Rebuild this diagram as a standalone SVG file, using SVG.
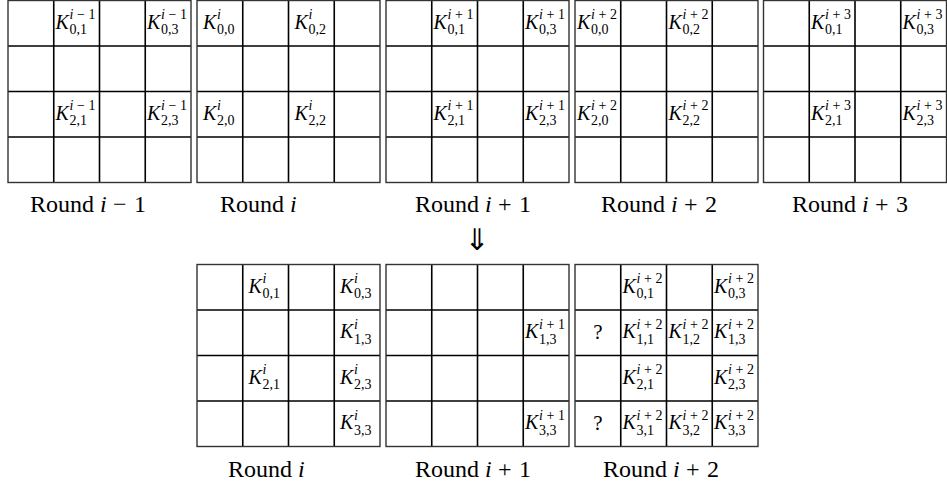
<svg xmlns="http://www.w3.org/2000/svg" xmlns:xlink="http://www.w3.org/1999/xlink" width="947" height="487" viewBox="0 0 947 487">
<style>
.bg{fill:#fff}
.out{fill:none;stroke:#333;stroke-width:1.4}
.inn{fill:none;stroke:#000;stroke-width:1.6}
.k{font-family:"Liberation Serif",serif;font-style:italic;font-size:20px;fill:#000}
.s{font-size:14px;font-style:normal}
.it{font-style:italic}
.q{font-family:"Liberation Serif",serif;font-size:21px;fill:#000;text-anchor:middle}
.r{font-family:"Liberation Serif",serif;font-size:24px;fill:#000}
.arr{font-family:"DejaVu Sans",sans-serif;font-size:30px;fill:#000;text-anchor:middle}
</style>
<defs>
<g id="grid">
<path class="inn" d="M45.75 0V182M91.5 0V182M137.25 0V182M0 45.5H183M0 91H183M0 136.5H183"/>
<rect class="out" x="0" y="0" width="183" height="182"/>
</g>
</defs>
<rect class="bg" x="0" y="0" width="947" height="487"/>

<g id="top-round-i-1">
<use xlink:href="#grid" x="8" y="0.5"/>
<text class="k" transform="translate(55.6,28.5)">K<tspan class="s" x="14" y="-9.5" textLength="26"><tspan class="it">i</tspan>−1</tspan><tspan class="s" x="14" y="5.5">0,1</tspan></text>
<text class="k" transform="translate(147.1,28.5)">K<tspan class="s" x="14" y="-9.5" textLength="26"><tspan class="it">i</tspan>−1</tspan><tspan class="s" x="14" y="5.5">0,3</tspan></text>
<text class="k" transform="translate(55.6,119.5)">K<tspan class="s" x="14" y="-9.5" textLength="26"><tspan class="it">i</tspan>−1</tspan><tspan class="s" x="14" y="5.5">2,1</tspan></text>
<text class="k" transform="translate(147.1,119.5)">K<tspan class="s" x="14" y="-9.5" textLength="26"><tspan class="it">i</tspan>−1</tspan><tspan class="s" x="14" y="5.5">2,3</tspan></text>
<text class="r" x="30" y="212">Round<tspan class="it" x="100">i</tspan><tspan x="113">−</tspan><tspan x="134">1</tspan></text>
</g>

<g id="top-round-i">
<use xlink:href="#grid" x="197" y="0.5"/>
<text class="k" transform="translate(202.9,28.5)">K<tspan class="s it" x="14" y="-9.5">i</tspan><tspan class="s" x="14" y="5.5">0,0</tspan></text>
<text class="k" transform="translate(294.4,28.5)">K<tspan class="s it" x="14" y="-9.5">i</tspan><tspan class="s" x="14" y="5.5">0,2</tspan></text>
<text class="k" transform="translate(202.9,119.5)">K<tspan class="s it" x="14" y="-9.5">i</tspan><tspan class="s" x="14" y="5.5">2,0</tspan></text>
<text class="k" transform="translate(294.4,119.5)">K<tspan class="s it" x="14" y="-9.5">i</tspan><tspan class="s" x="14" y="5.5">2,2</tspan></text>
<text class="r" x="220" y="212">Round<tspan class="it" x="290">i</tspan></text>
</g>

<g id="top-round-i1">
<use xlink:href="#grid" x="386" y="0.5"/>
<text class="k" transform="translate(433.6,28.5)">K<tspan class="s" x="14" y="-9.5" textLength="26"><tspan class="it">i</tspan>+1</tspan><tspan class="s" x="14" y="5.5">0,1</tspan></text>
<text class="k" transform="translate(525.1,28.5)">K<tspan class="s" x="14" y="-9.5" textLength="26"><tspan class="it">i</tspan>+1</tspan><tspan class="s" x="14" y="5.5">0,3</tspan></text>
<text class="k" transform="translate(433.6,119.5)">K<tspan class="s" x="14" y="-9.5" textLength="26"><tspan class="it">i</tspan>+1</tspan><tspan class="s" x="14" y="5.5">2,1</tspan></text>
<text class="k" transform="translate(525.1,119.5)">K<tspan class="s" x="14" y="-9.5" textLength="26"><tspan class="it">i</tspan>+1</tspan><tspan class="s" x="14" y="5.5">2,3</tspan></text>
<text class="r" x="415" y="212">Round<tspan class="it" x="485">i</tspan><tspan x="498">+</tspan><tspan x="519">1</tspan></text>
</g>

<g id="top-round-i2">
<use xlink:href="#grid" x="575" y="0.5"/>
<text class="k" transform="translate(576.9,28.5)">K<tspan class="s" x="14" y="-9.5" textLength="26"><tspan class="it">i</tspan>+2</tspan><tspan class="s" x="14" y="5.5">0,0</tspan></text>
<text class="k" transform="translate(668.4,28.5)">K<tspan class="s" x="14" y="-9.5" textLength="26"><tspan class="it">i</tspan>+2</tspan><tspan class="s" x="14" y="5.5">0,2</tspan></text>
<text class="k" transform="translate(576.9,119.5)">K<tspan class="s" x="14" y="-9.5" textLength="26"><tspan class="it">i</tspan>+2</tspan><tspan class="s" x="14" y="5.5">2,0</tspan></text>
<text class="k" transform="translate(668.4,119.5)">K<tspan class="s" x="14" y="-9.5" textLength="26"><tspan class="it">i</tspan>+2</tspan><tspan class="s" x="14" y="5.5">2,2</tspan></text>
<text class="r" x="601" y="212">Round<tspan class="it" x="671">i</tspan><tspan x="684">+</tspan><tspan x="705">2</tspan></text>
</g>

<g id="top-round-i3">
<use xlink:href="#grid" x="763.5" y="0.5"/>
<text class="k" transform="translate(811.1,28.5)">K<tspan class="s" x="14" y="-9.5" textLength="26"><tspan class="it">i</tspan>+3</tspan><tspan class="s" x="14" y="5.5">0,1</tspan></text>
<text class="k" transform="translate(902.6,28.5)">K<tspan class="s" x="14" y="-9.5" textLength="26"><tspan class="it">i</tspan>+3</tspan><tspan class="s" x="14" y="5.5">0,3</tspan></text>
<text class="k" transform="translate(811.1,119.5)">K<tspan class="s" x="14" y="-9.5" textLength="26"><tspan class="it">i</tspan>+3</tspan><tspan class="s" x="14" y="5.5">2,1</tspan></text>
<text class="k" transform="translate(902.6,119.5)">K<tspan class="s" x="14" y="-9.5" textLength="26"><tspan class="it">i</tspan>+3</tspan><tspan class="s" x="14" y="5.5">2,3</tspan></text>
<text class="r" x="792" y="212">Round<tspan class="it" x="862">i</tspan><tspan x="875">+</tspan><tspan x="896">3</tspan></text>
</g>

<g id="connectors">
<text class="arr" x="477" y="250">⇓</text>
</g>

<g id="bottom-round-i">
<use xlink:href="#grid" x="197" y="264.5"/>
<text class="k" transform="translate(248.6,292.5)">K<tspan class="s it" x="14" y="-9.5">i</tspan><tspan class="s" x="14" y="5.5">0,1</tspan></text>
<text class="k" transform="translate(340.1,292.5)">K<tspan class="s it" x="14" y="-9.5">i</tspan><tspan class="s" x="14" y="5.5">0,3</tspan></text>
<text class="k" transform="translate(340.1,338)">K<tspan class="s it" x="14" y="-9.5">i</tspan><tspan class="s" x="14" y="5.5">1,3</tspan></text>
<text class="k" transform="translate(248.6,383.5)">K<tspan class="s it" x="14" y="-9.5">i</tspan><tspan class="s" x="14" y="5.5">2,1</tspan></text>
<text class="k" transform="translate(340.1,383.5)">K<tspan class="s it" x="14" y="-9.5">i</tspan><tspan class="s" x="14" y="5.5">2,3</tspan></text>
<text class="k" transform="translate(340.1,429)">K<tspan class="s it" x="14" y="-9.5">i</tspan><tspan class="s" x="14" y="5.5">3,3</tspan></text>
<text class="r" x="228" y="477">Round<tspan class="it" x="298">i</tspan></text>
</g>

<g id="bottom-round-i1">
<use xlink:href="#grid" x="386" y="264.5"/>
<text class="k" transform="translate(525.1,338)">K<tspan class="s" x="14" y="-9.5" textLength="26"><tspan class="it">i</tspan>+1</tspan><tspan class="s" x="14" y="5.5">1,3</tspan></text>
<text class="k" transform="translate(525.1,429)">K<tspan class="s" x="14" y="-9.5" textLength="26"><tspan class="it">i</tspan>+1</tspan><tspan class="s" x="14" y="5.5">3,3</tspan></text>
<text class="r" x="415" y="477">Round<tspan class="it" x="485">i</tspan><tspan x="498">+</tspan><tspan x="519">1</tspan></text>
</g>

<g id="bottom-round-i2">
<use xlink:href="#grid" x="575" y="264.5"/>
<text class="k" transform="translate(622.6,292.5)">K<tspan class="s" x="14" y="-9.5" textLength="26"><tspan class="it">i</tspan>+2</tspan><tspan class="s" x="14" y="5.5">0,1</tspan></text>
<text class="k" transform="translate(714.1,292.5)">K<tspan class="s" x="14" y="-9.5" textLength="26"><tspan class="it">i</tspan>+2</tspan><tspan class="s" x="14" y="5.5">0,3</tspan></text>
<text class="q" x="597.9" y="339">?</text>
<text class="k" transform="translate(622.6,338)">K<tspan class="s" x="14" y="-9.5" textLength="26"><tspan class="it">i</tspan>+2</tspan><tspan class="s" x="14" y="5.5">1,1</tspan></text>
<text class="k" transform="translate(668.4,338)">K<tspan class="s" x="14" y="-9.5" textLength="26"><tspan class="it">i</tspan>+2</tspan><tspan class="s" x="14" y="5.5">1,2</tspan></text>
<text class="k" transform="translate(714.1,338)">K<tspan class="s" x="14" y="-9.5" textLength="26"><tspan class="it">i</tspan>+2</tspan><tspan class="s" x="14" y="5.5">1,3</tspan></text>
<text class="k" transform="translate(622.6,383.5)">K<tspan class="s" x="14" y="-9.5" textLength="26"><tspan class="it">i</tspan>+2</tspan><tspan class="s" x="14" y="5.5">2,1</tspan></text>
<text class="k" transform="translate(714.1,383.5)">K<tspan class="s" x="14" y="-9.5" textLength="26"><tspan class="it">i</tspan>+2</tspan><tspan class="s" x="14" y="5.5">2,3</tspan></text>
<text class="q" x="597.9" y="430">?</text>
<text class="k" transform="translate(622.6,429)">K<tspan class="s" x="14" y="-9.5" textLength="26"><tspan class="it">i</tspan>+2</tspan><tspan class="s" x="14" y="5.5">3,1</tspan></text>
<text class="k" transform="translate(668.4,429)">K<tspan class="s" x="14" y="-9.5" textLength="26"><tspan class="it">i</tspan>+2</tspan><tspan class="s" x="14" y="5.5">3,2</tspan></text>
<text class="k" transform="translate(714.1,429)">K<tspan class="s" x="14" y="-9.5" textLength="26"><tspan class="it">i</tspan>+2</tspan><tspan class="s" x="14" y="5.5">3,3</tspan></text>
<text class="r" x="603" y="477">Round<tspan class="it" x="673">i</tspan><tspan x="686">+</tspan><tspan x="707">2</tspan></text>
</g>
</svg>
